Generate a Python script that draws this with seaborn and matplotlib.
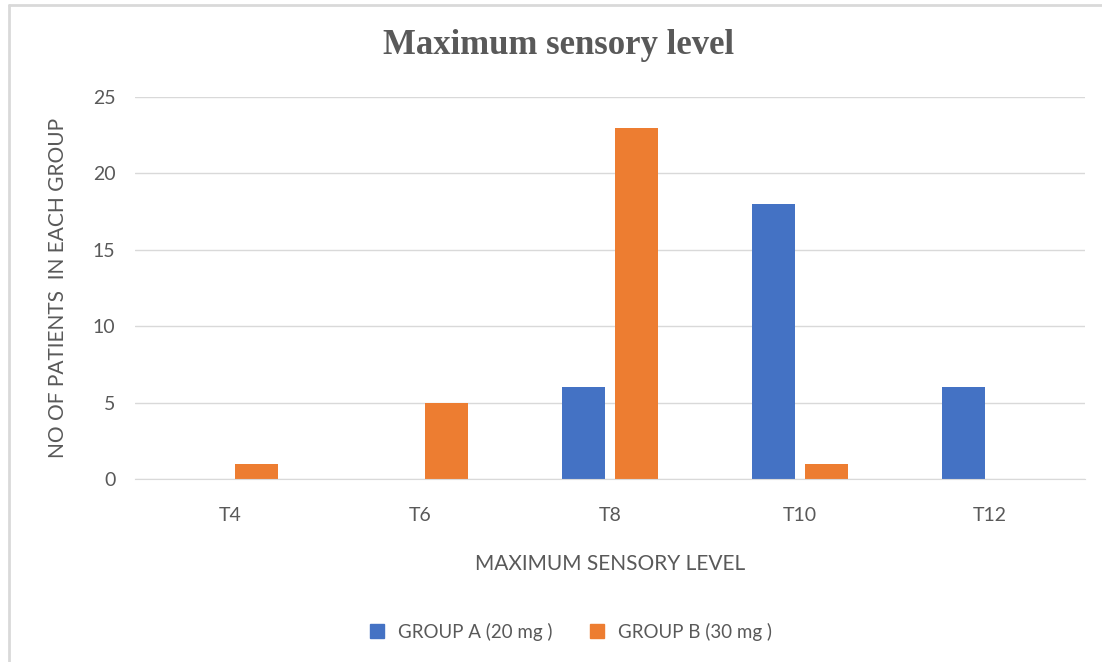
import pandas as pd
import matplotlib.pyplot as plt
import seaborn as sns
from matplotlib.lines import Line2D

# sensory level data
levels = ['T4', 'T6', 'T8', 'T10', 'T12']
group_a = [0, 0, 6, 18, 6]
group_b = [1, 5, 23, 1, 0]
group_names = ['GROUP A (20 mg )', 'GROUP B (30 mg )']

df = pd.DataFrame({
    'level': levels * 2,
    'patients': group_a + group_b,
    'group': [group_names[0]] * len(levels) + [group_names[1]] * len(levels),
})

sns.set_style('white')
plt.rcParams['font.family'] = ['Lato', 'DejaVu Sans']
grey = '#595959'

fig = plt.figure(figsize=(11.02, 6.62), dpi=100)
ax = fig.add_axes([135 / 1102, 1 - 479 / 662, 950 / 1102, 382 / 662])

sns.barplot(data=df, x='level', y='patients', hue='group', order=levels,
            hue_order=group_names, palette=['#4472C4', '#ED7D31'],
            width=0.56, gap=0.18, saturation=1, legend=False, ax=ax,
            edgecolor='none')

ax.set_ylim(0, 25)
ax.set_yticks(range(0, 26, 5))
ax.set_xlim(-0.5, len(levels) - 0.5)
ax.yaxis.grid(True, color='#D9D9D9', linewidth=1)
ax.set_axisbelow(True)
for s in ['top', 'right', 'left']:
    ax.spines[s].set_visible(False)
ax.spines['bottom'].set_color('#D9D9D9')
ax.tick_params(axis='both', length=0, labelsize=14, labelcolor=grey)
ax.tick_params(axis='x', pad=20)
ax.tick_params(axis='y', pad=14)

ax.set_xlabel('MAXIMUM SENSORY LEVEL', fontsize=15, color=grey, labelpad=22)
ax.set_ylabel('NO OF PATIENTS  IN EACH GROUP', fontsize=15, color=grey, labelpad=18)

fig.text(559 / 1102, 1 - 46 / 662, 'Maximum sensory level', ha='center', va='center',
         fontsize=25, fontweight='bold', color=grey, family='Liberation Serif')

handles = [Line2D([], [], marker='s', linestyle='', markersize=10, color=c)
           for c in ['#4472C4', '#ED7D31']]
fig.legend(handles, group_names, loc='center', bbox_to_anchor=(565 / 1102, 1 - 632 / 662),
           ncol=2, frameon=False, fontsize=13.5, labelcolor=grey,
           handletextpad=0.1, columnspacing=1.4)

# faint frame lines at top and left like the original
fig.add_artist(Line2D([9 / 1102, 9 / 1102], [0, 1 - 5 / 662], color='#D9D9D9', lw=2))
fig.add_artist(Line2D([9 / 1102, 1], [1 - 5 / 662, 1 - 5 / 662], color='#D9D9D9', lw=2))

fig.savefig('out.png', dpi=100)
